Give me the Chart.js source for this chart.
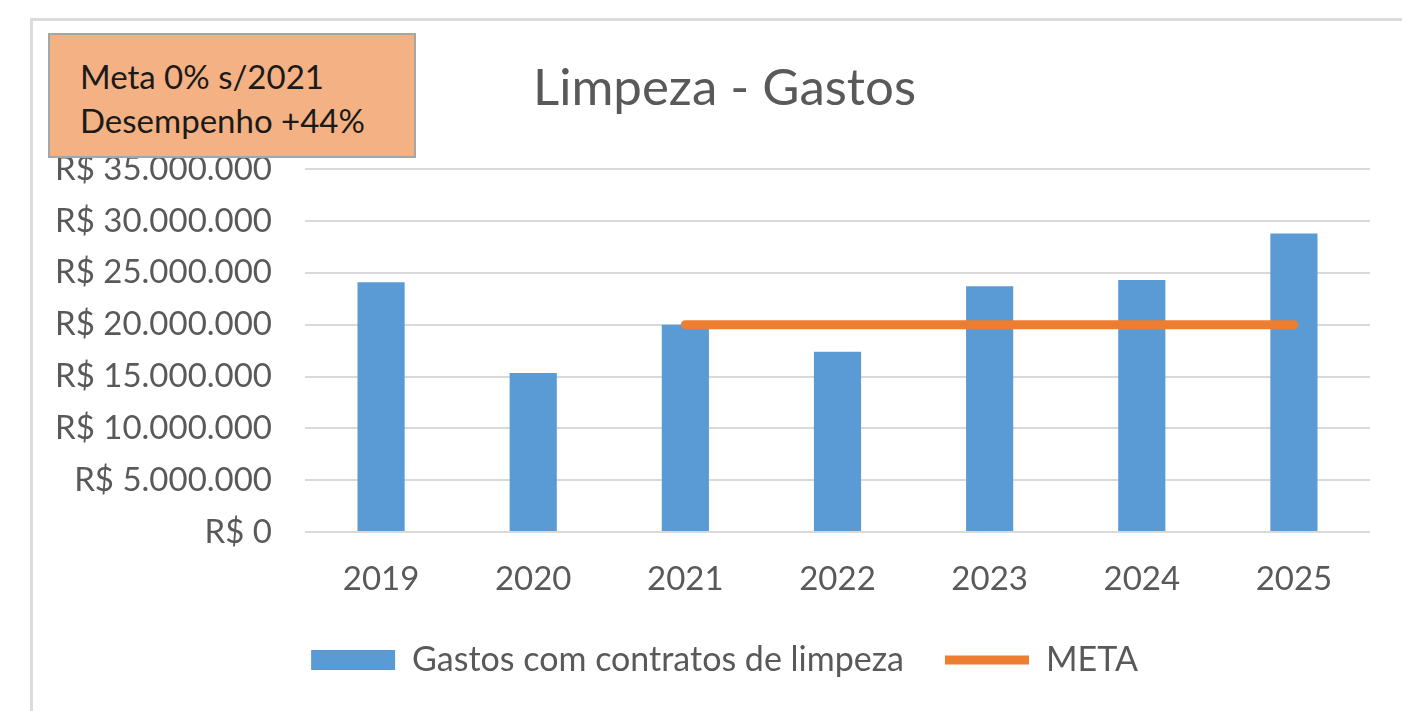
<!DOCTYPE html>
<html>
<head>
<meta charset="utf-8">
<script src="https://cdn.jsdelivr.net/npm/chart.js@4.4.1/dist/chart.umd.min.js"></script>
<style>
    body { margin: 0; background: #fff; }
    #wrap { position: relative; width: 1402px; height: 711px; overflow: hidden; }
    #frame {
        position: absolute; left: 30px; top: 18px; width: 1420px; height: 760px;
        border: 3px solid #dcdcdc; box-sizing: border-box;
    }
    #grafico { position: absolute; left: 0; top: 0; }
    #caixa {
        position: absolute; left: 48px; top: 33px; width: 368px; height: 125px;
        background: #f4b183; border: 2px solid #a6a6a6; box-sizing: border-box;
        font-family: Lato, sans-serif; font-size: 33px; color: #1a1a1a;
        padding: 19px 0 0 30px; line-height: 44px;
    }
</style>
</head>
<body>
<div id="wrap">
    <div id="frame"></div>
    <canvas id="grafico" width="1402" height="711"></canvas>
    <div id="caixa">Meta 0% s/2021<br>Desempenho +44%</div>
</div>
<script>
// Dados do gráfico
const anos = ['2019', '2020', '2021', '2022', '2023', '2024', '2025'];
const gastos = [24100000, 15350000, 20000000, 17400000, 23700000, 24300000, 28800000];
const meta = [null, null, 20000000, 20000000, 20000000, 20000000, 20000000];
const yMax = 35000000;
const yPasso = 5000000;

const corBarra = '#5b9bd5';
const corMeta = '#ed7d31';
const corTexto = '#595959';

// R$ 35.000.000
function formataReais(v) {
    return 'R$ ' + String(Math.round(v)).replace(/\B(?=(\d{3})+(?!\d))/g, '.');
}

const ctx = document.getElementById('grafico');
new Chart(ctx, {
    data: {
        labels: anos,
        datasets: [{
            type: 'bar',
            label: 'Gastos com contratos de limpeza',
            data: gastos,
            backgroundColor: corBarra,
            borderWidth: 0,
            barPercentage: 0.31,
            categoryPercentage: 1,
            pointStyle: 'rect',
            order: 2
        }, {
            type: 'line',
            label: 'META',
            data: meta,
            borderColor: corMeta,
            backgroundColor: corMeta,
            borderWidth: 9,
            borderCapStyle: 'round',
            pointRadius: 0,
            pointStyle: 'line',
            fill: false,
            order: 1
        }]
    },
    options: {
        responsive: false,
        animation: false,
        layout: {
            padding: { left: 50, right: 3, top: 18, bottom: 24 }
        },
        plugins: {
            title: {
                display: true,
                text: 'Limpeza - Gastos',
                color: corTexto,
                font: { family: 'Lato', size: 51, weight: 'normal' },
                padding: { top: 40, bottom: 50 }
            },
            legend: {
                position: 'bottom',
                labels: {
                    color: corTexto,
                    font: { family: 'Lato', size: 34 },
                    usePointStyle: true,
                    pointStyleWidth: 84,
                    boxHeight: 20,
                    padding: 41,
                    sort: function(a, b) { return a.datasetIndex - b.datasetIndex; }
                }
            },
            tooltip: { enabled: false }
        },
        scales: {
            x: {
                grid: { display: false, drawTicks: false },
                border: { display: false },
                afterFit: function(scale) { scale.height = 70; },
                ticks: {
                    color: corTexto,
                    font: { family: 'Lato', size: 33 },
                    padding: 28
                }
            },
            y: {
                min: 0,
                max: yMax,
                afterFit: function(scale) { scale.width = 255; },
                border: { display: false },
                grid: { color: '#d9d9d9', lineWidth: 2, drawTicks: false },
                ticks: {
                    stepSize: yPasso,
                    color: corTexto,
                    font: { family: 'Lato', size: 33 },
                    padding: 33,
                    callback: function(value) { return formataReais(value); }
                }
            },
            // margem da direita, sem marcas
            margem: {
                type: 'linear',
                position: 'right',
                grid: { display: false, drawTicks: false },
                border: { display: false },
                ticks: { display: false },
                afterFit: function(scale) { scale.width = 29; }
            }
        }
    }
});
</script>
</body>
</html>
